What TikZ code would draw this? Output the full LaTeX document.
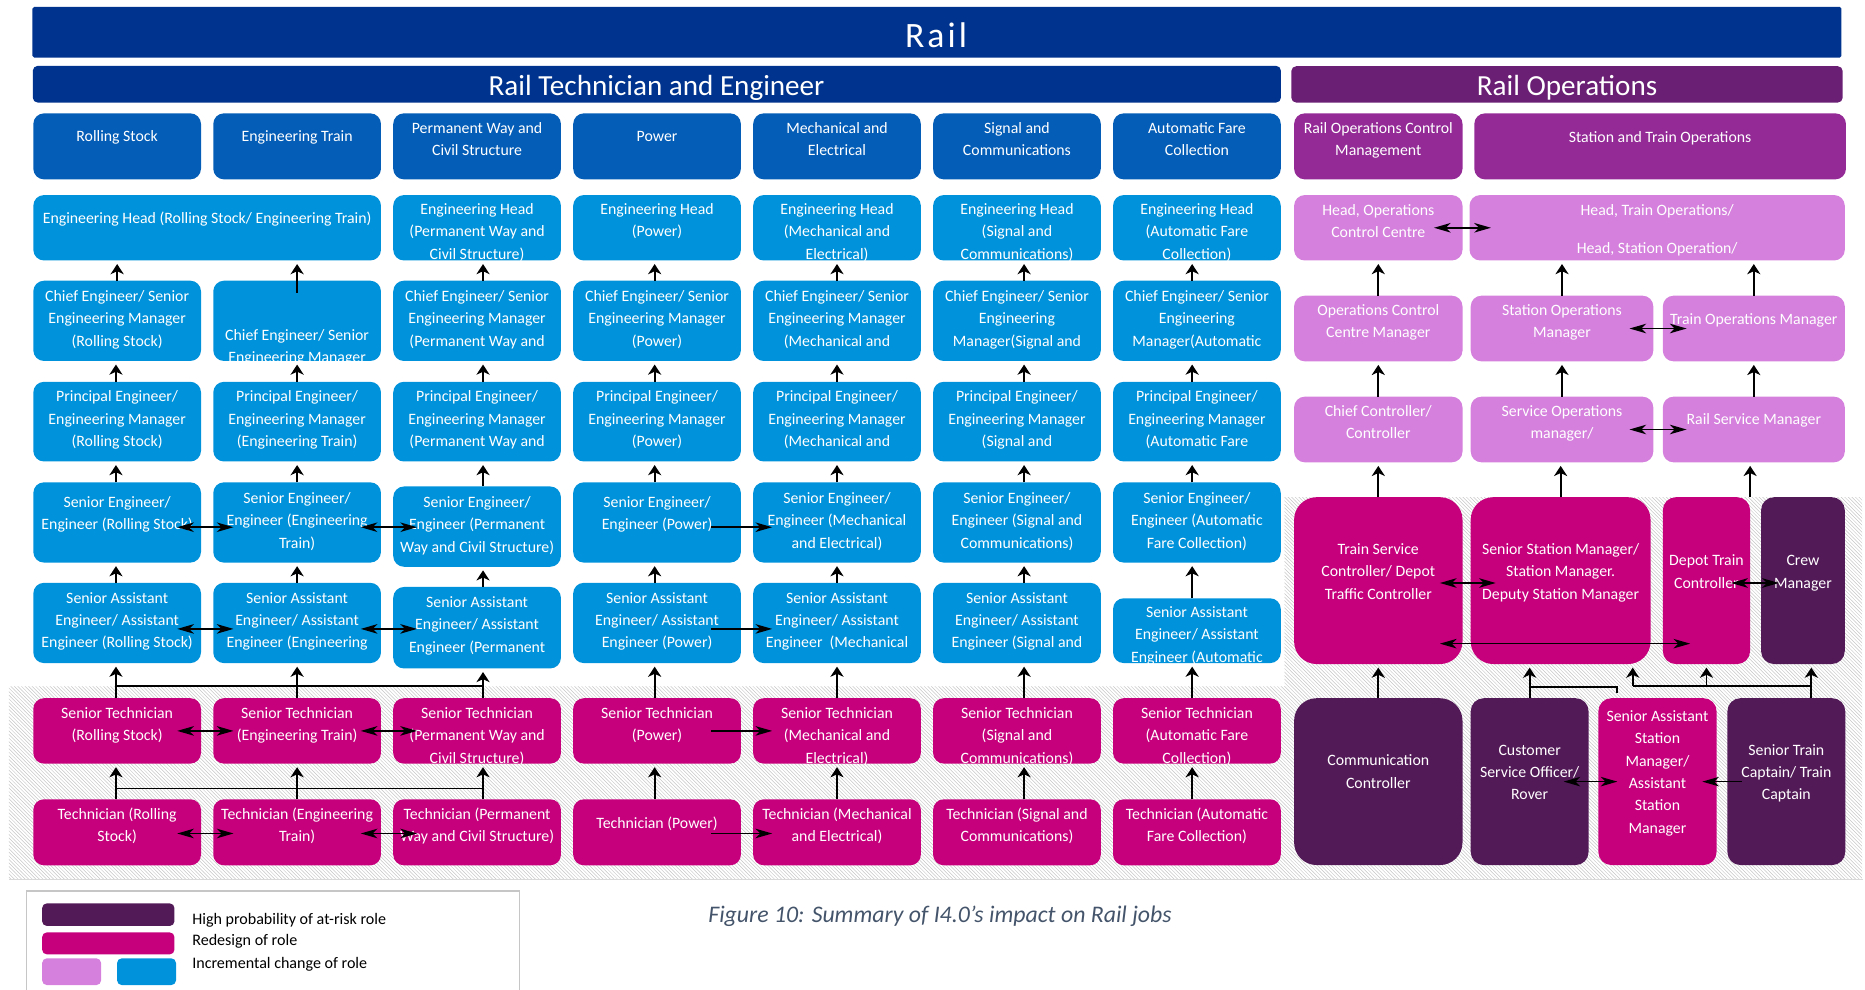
\documentclass[tikz,border=0pt]{standalone}
\usepackage{fontspec}
\setmainfont{Carlito}
\usetikzlibrary{arrows.meta,patterns}

\definecolor{railnavy}{RGB}{0,51,141}
\definecolor{catblue}{RGB}{4,93,183}
\definecolor{engblue}{RGB}{0,146,218}
\definecolor{opsbar}{RGB}{106,30,116}
\definecolor{opspurple}{RGB}{147,42,150}
\definecolor{lilac}{RGB}{212,128,220}
\definecolor{redesign}{RGB}{198,0,124}
\definecolor{atrisk}{RGB}{83,26,88}
\definecolor{captiongray}{RGB}{68,84,106}

\tikzset{
  role/.style={rectangle, rounded corners=9pt, inner sep=0pt, outer sep=0pt, anchor=north west},
  catbox/.style={role, fill=catblue},
  engbox/.style={role, fill=engblue},
  opsbox/.style={role, fill=opspurple},
  lilacbox/.style={role, fill=lilac},
  redbox/.style={role, fill=redesign},
  riskbox/.style={role, fill=atrisk},
  bigcorner/.style={rounded corners=19pt},
  midcorner/.style={rounded corners=11pt},
  roletext/.style={anchor=north, inner sep=0pt, minimum width=0pt, minimum height=0pt,
    text=white, align=center, font=\fontsize{13.3}{18.8}\selectfont},
  bar/.style={rectangle, anchor=north west, inner sep=0pt, rounded corners=4pt},
  bartext/.style={text=white, inner sep=0pt, font=\fontsize{24.5}{26}\selectfont},
  upar/.style={-{Stealth[length=8.5pt,width=11pt,inset=2.5pt]}, line width=1.5pt, shorten >=3pt},
  sidear/.style={{Stealth[length=14pt,width=8pt,inset=4pt]}-{Stealth[length=14pt,width=8pt,inset=4pt]}, line width=1.3pt},
  onear/.style={-{Stealth[length=14pt,width=8pt,inset=4pt]}, line width=1.3pt},
  link/.style={line width=1.5pt},
  keytext/.style={anchor=west, inner sep=0pt, font=\fontsize{13.5}{15}\selectfont},
}

% name, style, x, y, width, height, first line, text
\newcommand{\rolebox}[8]{%
  \node[#2, minimum width=#5pt, minimum height=#6pt,
    path picture={\node[roletext] at ([yshift={-(#7-5.8)*1pt}]path picture bounding box.north) {\rule{0pt}{10pt}#8};}]
    (#1) at (#3,#4) {};}

\begin{document}
\begin{tikzpicture}[x=1pt,y=-1pt]
    \useasboundingbox (0,0) rectangle (1568,832);
    % Sfondo tratteggiato
    \fill[pattern=north west lines, pattern color=gray!45] (7.5,577) -- (1080,577) -- (1080,418) -- (1566,418) -- (1566,739.5) -- (7.5,739.5) -- cycle;
    \draw[gray!30, thin] (7.5,739.5) -- (1566,739.5);
    % Barre
    \node[bar, fill=railnavy, rounded corners=1.5pt, minimum width=1521pt, minimum height=42.6pt] (railbar) at (27,5.6) {};
    \node[bartext, font=\fontsize{30}{30}\selectfont\addfontfeature{LetterSpace=8.7}] (railtitle) at (787,29.4) {Rail};
    \node[bar, fill=railnavy, minimum width=1049.3pt, minimum height=30.8pt] (techbar) at (27.4,55.2) {};
    \node[bartext] (techtitle) at (552,73.6) {Rail Technician and Engineer};
    \node[bar, fill=opsbar, minimum width=463.5pt, minimum height=30.5pt] (opsbar) at (1085.5,55.5) {};
    \node[bartext] (opstitle) at (1317.5,73.6) {Rail Operations};
    % Categorie
    \rolebox{cat1}{catbox}{28}{95.3}{141}{55.5}{19.7}{Rolling Stock}
    \rolebox{cat2}{catbox}{179.3}{95.3}{141}{55.5}{19.7}{Engineering Train}
    \rolebox{cat3}{catbox}{330.6}{95.3}{141}{55.5}{12.7}{Permanent Way and\\Civil Structure}
    \rolebox{cat4}{catbox}{481.9}{95.3}{141}{55.5}{19.7}{Power}
    \rolebox{cat5}{catbox}{633.2}{95.3}{141}{55.5}{12.7}{Mechanical and\\Electrical}
    \rolebox{cat6}{catbox}{784.5}{95.3}{141}{55.5}{12.7}{Signal and\\Communications}
    \rolebox{cat7}{catbox}{935.8}{95.3}{141}{55.5}{12.7}{Automatic Fare\\Collection}
    \rolebox{catA}{opsbox}{1088}{95.3}{141.6}{55.5}{12.6}{Rail Operations Control\\Management}
    \rolebox{catB}{opsbox}{1239.5}{95.3}{312.5}{55.5}{20}{Station and Train Operations}
    % Engineering Head
    \rolebox{head12}{engbox}{28}{164}{292.3}{55}{20}{Engineering Head (Rolling Stock/ Engineering Train)}
    \rolebox{head3}{engbox}{330.6}{164}{141}{55}{12}{Engineering Head\\(Permanent Way and\\Civil Structure)}
    \rolebox{head4}{engbox}{481.9}{164}{141}{55}{12}{Engineering Head\\(Power)}
    \rolebox{head5}{engbox}{633.2}{164}{141}{55}{12}{Engineering Head\\(Mechanical and\\Electrical)}
    \rolebox{head6}{engbox}{784.5}{164}{141}{55}{12}{Engineering Head\\(Signal and\\Communications)}
    \rolebox{head7}{engbox}{935.8}{164}{141}{55}{12}{Engineering Head\\(Automatic Fare\\Collection)}
    \rolebox{headA}{lilacbox}{1088}{164}{141.6}{55}{13}{Head, Operations\\Control Centre}
    \rolebox{headB}{lilacbox}{1235.5}{164}{315.5}{55}{13}{Head, Train Operations/\\[13pt]Head, Station Operation/}
    % Chief Engineer
    \rolebox{chief1}{engbox}{28}{236}{141}{67.5}{13.4}{Chief Engineer/ Senior\\Engineering Manager\\(Rolling Stock)}
    \rolebox{chief2}{engbox}{179.3}{236}{141}{67.5}{46}{Chief Engineer/ Senior\\Engineering Manager}
    \rolebox{chief3}{engbox}{330.6}{236}{141}{67.5}{13.4}{Chief Engineer/ Senior\\Engineering Manager\\(Permanent Way and}
    \rolebox{chief4}{engbox}{481.9}{236}{141}{67.5}{13.4}{Chief Engineer/ Senior\\Engineering Manager\\(Power)}
    \rolebox{chief5}{engbox}{633.2}{236}{141}{67.5}{13.4}{Chief Engineer/ Senior\\Engineering Manager\\(Mechanical and}
    \rolebox{chief6}{engbox}{784.5}{236}{141}{67.5}{13.4}{Chief Engineer/ Senior\\Engineering\\Manager(Signal and}
    \rolebox{chief7}{engbox}{935.8}{236}{141}{67.5}{13.4}{Chief Engineer/ Senior\\Engineering\\Manager(Automatic}
    \rolebox{occm}{lilacbox}{1088}{248.6}{141.6}{55.2}{12.1}{Operations Control\\Centre Manager}
    \rolebox{som}{lilacbox}{1236.5}{248.6}{153.5}{55.2}{12.1}{Station Operations\\Manager}
    \rolebox{tom}{lilacbox}{1398}{248.6}{153}{55.2}{20.4}{Train Operations Manager}
    % Principal Engineer
    \rolebox{princ1}{engbox}{28}{321}{141}{67}{12.5}{Principal Engineer/\\Engineering Manager\\(Rolling Stock)}
    \rolebox{princ2}{engbox}{179.3}{321}{141}{67}{12.5}{Principal Engineer/\\Engineering Manager\\(Engineering Train)}
    \rolebox{princ3}{engbox}{330.6}{321}{141}{67}{12.5}{Principal Engineer/\\Engineering Manager\\(Permanent Way and}
    \rolebox{princ4}{engbox}{481.9}{321}{141}{67}{12.5}{Principal Engineer/\\Engineering Manager\\(Power)}
    \rolebox{princ5}{engbox}{633.2}{321}{141}{67}{12.5}{Principal Engineer/\\Engineering Manager\\(Mechanical and}
    \rolebox{princ6}{engbox}{784.5}{321}{141}{67}{12.5}{Principal Engineer/\\Engineering Manager\\(Signal and}
    \rolebox{princ7}{engbox}{935.8}{321}{141}{67}{12.5}{Principal Engineer/\\Engineering Manager\\(Automatic Fare}
    \rolebox{cc}{lilacbox}{1088}{333.5}{141.6}{55.2}{12.1}{Chief Controller/\\Controller}
    \rolebox{sopm}{lilacbox}{1236.5}{333.5}{153.5}{55.2}{12.1}{Service Operations\\manager/}
    \rolebox{rsm}{lilacbox}{1398}{333.5}{153}{55.2}{19.5}{Rail Service Manager}
    % Senior Engineer
    \rolebox{seng1}{engbox}{28}{405.5}{141}{67.5}{16.8}{Senior Engineer/\\Engineer (Rolling Stock)}
    \rolebox{seng2}{engbox}{179.3}{405.5}{141}{67.5}{13.5}{Senior Engineer/\\Engineer (Engineering\\Train)}
    \rolebox{seng3}{engbox}{330.6}{409}{141}{67.5}{13.3}{Senior Engineer/\\Engineer (Permanent\\Way and Civil Structure)}
    \rolebox{seng4}{engbox}{481.9}{405.5}{141}{67.5}{16.8}{Senior Engineer/\\Engineer (Power)}
    \rolebox{seng5}{engbox}{633.2}{405.5}{141}{67.5}{13.5}{Senior Engineer/\\Engineer (Mechanical\\and Electrical)}
    \rolebox{seng6}{engbox}{784.5}{405.5}{141}{67.5}{13.5}{Senior Engineer/\\Engineer (Signal and\\Communications)}
    \rolebox{seng7}{engbox}{935.8}{405.5}{141}{67.5}{13.5}{Senior Engineer/\\Engineer (Automatic\\Fare Collection)}
    \rolebox{tsc}{redbox,bigcorner}{1088}{418}{141.6}{140.3}{43.9}{Train Service\\Controller/ Depot\\Traffic Controller}
    \rolebox{ssm}{redbox,bigcorner}{1236.5}{418}{151.2}{140.3}{43.9}{Senior Station Manager/\\Station Manager.\\Deputy Station Manager}
    \rolebox{dtc}{redbox,midcorner}{1398}{418}{73.4}{140.3}{53.4}{Depot Train\\Controller}
    \rolebox{crew}{riskbox,midcorner}{1480.6}{418}{70.4}{140.3}{53.4}{Crew\\Manager}
    % Senior Assistant Engineer
    \rolebox{saeng1}{engbox}{28}{490}{141}{67.5}{13}{Senior Assistant\\Engineer/ Assistant\\Engineer (Rolling Stock)}
    \rolebox{saeng2}{engbox}{179.3}{490}{141}{67.5}{13}{Senior Assistant\\Engineer/ Assistant\\Engineer (Engineering}
    \rolebox{saeng3}{engbox}{330.6}{493.5}{141}{68.5}{12.9}{Senior Assistant\\Engineer/ Assistant\\Engineer (Permanent}
    \rolebox{saeng4}{engbox}{481.9}{490}{141}{67.5}{13}{Senior Assistant\\Engineer/ Assistant\\Engineer (Power)}
    \rolebox{saeng5}{engbox}{633.2}{490}{141}{67.5}{13}{Senior Assistant\\Engineer/ Assistant\\Engineer\ \ (Mechanical}
    \rolebox{saeng6}{engbox}{784.5}{490}{141}{67.5}{13}{Senior Assistant\\Engineer/ Assistant\\Engineer (Signal and}
    \rolebox{saeng7}{engbox}{935.8}{503}{141}{54.5}{11.8}{Senior Assistant\\Engineer/ Assistant\\Engineer (Automatic}
    % Senior Technician
    \rolebox{stech1}{redbox}{28}{587}{141}{55}{12.7}{Senior Technician\\(Rolling Stock)}
    \rolebox{stech2}{redbox}{179.3}{587}{141}{55}{12.7}{Senior Technician\\(Engineering Train)}
    \rolebox{stech3}{redbox}{330.6}{587}{141}{55}{12.7}{Senior Technician\\(Permanent Way and\\Civil Structure)}
    \rolebox{stech4}{redbox}{481.9}{587}{141}{55}{12.7}{Senior Technician\\(Power)}
    \rolebox{stech5}{redbox}{633.2}{587}{141}{55}{12.7}{Senior Technician\\(Mechanical and\\Electrical)}
    \rolebox{stech6}{redbox}{784.5}{587}{141}{55}{12.7}{Senior Technician\\(Signal and\\Communications)}
    \rolebox{stech7}{redbox}{935.8}{587}{141}{55}{12.7}{Senior Technician\\(Automatic Fare\\Collection)}
    \rolebox{comm}{riskbox,bigcorner}{1088}{587}{141.6}{140.3}{52.8}{Communication\\Controller}
    \rolebox{cso}{riskbox,midcorner}{1236.5}{587}{99.1}{140.3}{43.6}{Customer\\Service Officer/\\Rover}
    \rolebox{sasm}{redbox,midcorner}{1343.8}{587}{99.4}{140.3}{15.3}{Senior Assistant\\Station\\Manager/\\Assistant\\Station\\Manager}
    \rolebox{stc}{riskbox,midcorner}{1452.3}{587}{99.1}{140.3}{43.6}{Senior Train\\Captain/ Train\\Captain}
    % Technician
    \rolebox{tech1}{redbox}{28}{672}{141}{55.5}{12.4}{Technician (Rolling\\Stock)}
    \rolebox{tech2}{redbox}{179.3}{672}{141}{55.5}{12.4}{Technician (Engineering\\Train)}
    \rolebox{tech3}{redbox}{330.6}{672}{141}{55.5}{12.4}{Technician (Permanent\\Way and Civil Structure)}
    \rolebox{tech4}{redbox}{481.9}{672}{141}{55.5}{20.2}{Technician (Power)}
    \rolebox{tech5}{redbox}{633.2}{672}{141}{55.5}{12.4}{Technician (Mechanical\\and Electrical)}
    \rolebox{tech6}{redbox}{784.5}{672}{141}{55.5}{12.4}{Technician (Signal and\\Communications)}
    \rolebox{tech7}{redbox}{935.8}{672}{141}{55.5}{12.4}{Technician (Automatic\\Fare Collection)}
    % Frecce verticali
    \draw[upar] (chief1.north) -- (chief1.north |- head12.south);
    \draw[upar] ([yshift=-10pt]chief2.north) -- (chief2.north |- head12.south);
    \foreach \i/\dx in {3/5,4/-2,5/0,6/6,7/-4}
        \draw[upar] ([xshift=\dx pt]chief\i.north) -- ([xshift=\dx pt]head\i.south);
    \foreach \i/\dx in {1/-1,2/0,3/5,4/-2,5/0,6/6,7/-4} {
        \draw[upar] ([xshift=\dx pt]princ\i.north) -- ([xshift=\dx pt]chief\i.south);
        \draw[upar] ([xshift=\dx pt]seng\i.north) -- ([xshift=\dx pt]princ\i.south);
        \draw[upar] ([xshift=\dx pt]saeng\i.north) -- ([xshift=\dx pt]seng\i.south);
        \draw[upar] ([xshift=\dx pt]stech\i.north) -- ([xshift=\dx pt]saeng\i.south);
        \draw[upar] ([xshift=\dx pt]tech\i.north) -- ([xshift=\dx pt]stech\i.south);
    }
    \draw[link] ([xshift=-1pt,yshift=10pt]stech1.north) -- ([xshift=5pt,yshift=10pt]stech3.north);
    \draw[link] ([xshift=-1pt,yshift=9pt]tech1.north) -- ([xshift=5pt,yshift=9pt]tech3.north);
    % Frecce orizzontali
    \foreach \r/\dy in {seng/-4,saeng/-5,stech/0,tech/-1} {
        \draw[sidear, shorten <=-20pt, shorten >=-17pt] ([yshift=\dy pt]\r1.east) -- ([yshift=\dy pt]\r1.east -| \r2.west);
        \draw[sidear, shorten <=-17pt, shorten >=-20pt] ([yshift=\dy pt]\r2.east) -- ([yshift=\dy pt]\r2.east -| \r3.west);
        \draw[onear, shorten <=-25pt, shorten >=-16pt] ([yshift=\dy pt]\r4.east) -- ([yshift=\dy pt]\r4.east -| \r5.west);
    }
    % Operations
    \draw[upar] (occm.north) -- (occm.north |- headA.south);
    \draw[upar] (som.north) -- (som.north |- headB.south);
    \draw[upar] (tom.north) -- (tom.north |- headB.south);
    \draw[upar] (cc.north) -- (occm.south);
    \draw[upar] (sopm.north) -- (som.south);
    \draw[upar] (rsm.north) -- (tom.south);
    \draw[upar] (tsc.north) -- (tsc.north |- cc.south);
    \draw[upar] (ssm.north) -- (ssm.north |- sopm.south);
    \draw[upar] (dtc.north east) -- (dtc.north east |- rsm.south);
    \draw[upar] (comm.north) -- (comm.north |- tsc.south);
    \draw[upar] (cso.north) -- (cso.north |- ssm.south);
    \coordinate (sajoin) at ([xshift=-34pt,yshift=4pt]sasm.north);
    \draw[link] (sajoin) |- ([yshift=9.7pt]cso.north);
    \coordinate (stjoin) at ([xshift=21pt,yshift=10pt]stc.north);
    \coordinate (ssmleg) at ([xshift=-15pt]ssm.south east);
    \draw[link] (stjoin) -- (stjoin -| ssmleg);
    \draw[upar] (stjoin -| ssmleg) -- (ssmleg);
    \draw[upar] (stjoin -| dtc.south) -- (dtc.south);
    \draw[upar] ([xshift=21pt]stc.north) -- (stjoin |- crew.south);
    \draw[sidear, shorten <=-24pt, shorten >=-18pt] (headA.east) -- (headA.east -| headB.west);
    \draw[sidear, shorten <=-20pt, shorten >=-20pt] (som.east) -- (som.east -| tom.west);
    \draw[sidear, shorten <=-20pt, shorten >=-20pt] (sopm.east) -- (sopm.east -| rsm.west);
    \draw[sidear, shorten <=-19pt, shorten >=-21pt] ([yshift=-2pt]tsc.east) -- ([yshift=-2pt]tsc.east -| ssm.west);
    \draw[sidear, shorten <=-19pt, shorten >=-23pt] ([yshift=-53pt]tsc.east) -- ([yshift=-53pt]tsc.east -| dtc.west);
    \draw[sidear, shorten <=-16pt, shorten >=-15pt] ([yshift=-2pt]dtc.east) -- ([yshift=-2pt]dtc.east -| crew.west);
    \draw[sidear, shorten <=-21pt, shorten >=-16pt] (cso.east) -- (cso.east -| sasm.west);
    \draw[onear, shorten <=-12pt, shorten >=-12pt] (stc.west) -- (stc.west -| sasm.east);
    % Legenda
    \draw[gray!45, line width=1.2pt] (22.5,749) rectangle (436.8,845);
    \node[riskbox, rounded corners=4pt, minimum width=111.3pt, minimum height=19pt] (keyrisk) at (35.4,759.5) {};
    \node[redbox, rounded corners=4pt, minimum width=111.3pt, minimum height=18.5pt] (keyredesign) at (35.4,783.9) {};
    \node[lilacbox, rounded corners=4pt, minimum width=49.6pt, minimum height=22.5pt] (keylilac) at (35.4,805.7) {};
    \node[engbox, rounded corners=4pt, minimum width=49.6pt, minimum height=22.5pt] (keyblue) at (98.4,805.7) {};
    \node[keytext] (keyrisktxt) at (161.5,773.5) {High probability of at-risk role};
    \node[keytext] (keyredesigntxt) at (161.5,791.8) {Redesign of role};
    \node[keytext] (keychangetxt) at (161.5,810.8) {Incremental change of role};
    % Didascalia
    \node[text=captiongray, inner sep=0pt, font=\fontsize{20}{22}\selectfont\itshape] (caption) at (790.3,770) {Figure 10: Summary of I4.0’s impact on Rail jobs};
\end{tikzpicture}
\end{document}
